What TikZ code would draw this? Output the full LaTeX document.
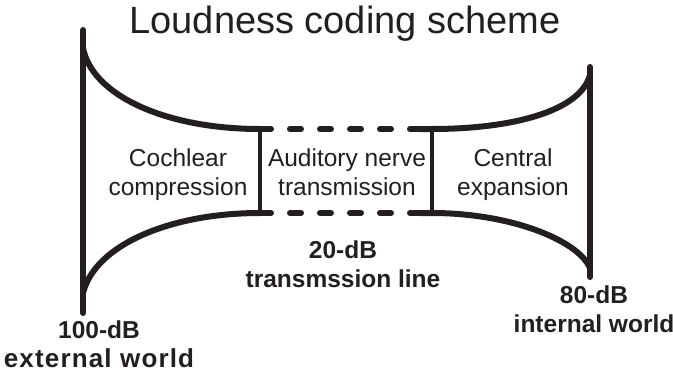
\documentclass[tikz,border=0pt]{standalone}
\usepackage{fontspec}
\setmainfont{Liberation Sans}
\usetikzlibrary{positioning}
\definecolor{ink}{HTML}{231F20}

\begin{document}
\begin{tikzpicture}[x=1pt, y=-1pt,
    horn/.style={ink, line width=6pt, line cap=round},
    gate/.style={ink, line width=4.5pt},
    nerve/.style={ink, line width=6pt, line cap=round, dash pattern=on 11pt off 19pt},
    stage/.style={align=center, anchor=base, text=ink, font=\fontsize{24.5}{29}\selectfont},
    level/.style={align=center, anchor=base, text=ink, font=\fontsize{24.5}{29}\selectfont\bfseries}]
    \useasboundingbox (0,0) rectangle (673,375);

    \node[anchor=base, text=ink, font=\fontsize{38}{40}\selectfont] (title) at (345,33) {Loudness coding scheme};

    % Cochlear compression (left)
    \draw[horn] (83,30) -- (83,313);
    \draw[horn] (83,48) .. controls (92,95) and (165,129) .. (260,129);
    \draw[horn] (83,293) .. controls (95,245) and (170,213) .. (260,213);
    \draw[gate] (260,129) -- (260,213);
    \node[stage] (cochlea) at (178,195) {Cochlear\\compression};

    % Auditory nerve (dashed middle)
    \draw[nerve] (260,129) -- (432,129);
    \draw[nerve] (260,213) -- (432,213);
    \draw[gate] (432,129) -- (432,213);
    \node[stage] (nerve) at (347,195) {Auditory nerve\\transmission};

    % Central expansion (right)
    \draw[horn] (590,67) -- (590,277);
    \draw[horn] (420,129) -- (432,129) .. controls (510,129) and (580,112) .. (590,75);
    \draw[horn] (420,213) -- (432,213) .. controls (510,213) and (578,240) .. (590,268);
    \node[stage] (central) at (513,195) {Central\\expansion};

    % Levels
    \node[level] (line20) at (343,287) {20-dB\\transmssion line};
    \node[level] (internal) at (594,332) {80-dB\\internal world};
    \node[level] (external) at (99,367) {100-dB\\{\fontsize{26}{29}\selectfont\addfontfeature{LetterSpace=4.5}external world}};
\end{tikzpicture}
\end{document}
